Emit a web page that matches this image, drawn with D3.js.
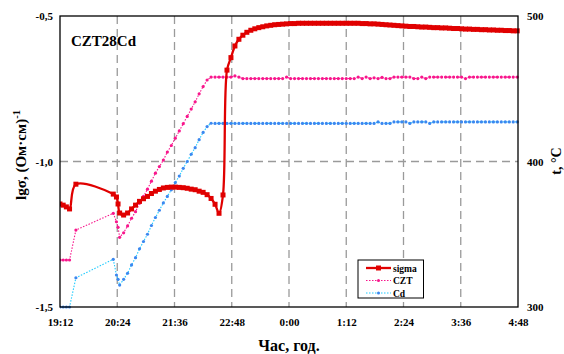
<!DOCTYPE html>
<html>
<head>
<meta charset="utf-8">
<script src="https://cdn.jsdelivr.net/npm/d3@7"></script>
<style>
  html, body { margin: 0; padding: 0; background: #fff; }
  svg { display: block; font-family: "Liberation Serif", "Times New Roman", serif; font-weight: bold; }
</style>
</head>
<body>
<svg id="chart" width="564" height="354"></svg>
<script>
// ---- data (time = minutes after 19:12) ----
const timeTickLabels = ["19:12", "20:24", "21:36", "22:48", "0:00", "1:12", "2:24", "3:36", "4:48"];
const leftTicks = [-1.5, -1.0, -0.5];
const leftTickLabels = ["-1,5", "-1,0", "-0,5"];
const rightTicks = [300, 400, 500];

const minutes = [
  0, 4, 8, 12, 20, 67, 71, 73, 75, 80, 85, 90, 95,
  100, 105, 110, 115, 120, 125, 130, 135, 140, 145,
  150, 155, 160, 165, 170, 175, 180, 185, 190, 195,
  200, 205, 210, 215, 220, 225, 230, 235, 240, 245,
  250, 255, 260, 265, 270, 275, 280, 285, 290, 295,
  300, 305, 310, 315, 320, 325, 330, 335, 340, 345,
  350, 355, 360, 365, 370, 375, 380, 385, 390, 395,
  400, 405, 410, 415, 420, 425, 430, 435, 440, 445,
  450, 455, 460, 465, 470, 475, 480, 485, 490, 495,
  500, 505, 510, 515, 520, 525, 530, 535, 540, 545,
  550, 555, 560, 565, 570, 575
];

const sigma = [
  -1.146, -1.150, -1.156, -1.163, -1.078, -1.112, -1.122, -1.146, -1.177, -1.184, -1.177, -1.163, -1.150,
  -1.137, -1.128, -1.120, -1.110, -1.102, -1.096, -1.091, -1.089, -1.088, -1.088,
  -1.089, -1.090, -1.092, -1.095, -1.097, -1.102, -1.106, -1.114, -1.127, -1.147,
  -1.178, -1.115, -0.686, -0.643, -0.603, -0.580, -0.566, -0.556, -0.549, -0.544,
  -0.540, -0.537, -0.534, -0.532, -0.530, -0.529, -0.528, -0.527, -0.526, -0.526,
  -0.525, -0.525, -0.525, -0.525, -0.525, -0.525, -0.525, -0.525, -0.525, -0.525,
  -0.525, -0.525, -0.525, -0.525, -0.525, -0.525, -0.526, -0.526, -0.527, -0.527,
  -0.528, -0.529, -0.530, -0.531, -0.532, -0.533, -0.534, -0.535, -0.536, -0.536,
  -0.537, -0.538, -0.538, -0.539, -0.540, -0.540, -0.541, -0.541, -0.542, -0.543,
  -0.543, -0.544, -0.545, -0.545, -0.546, -0.546, -0.547, -0.547, -0.548, -0.548,
  -0.549, -0.549, -0.550, -0.550, -0.551, -0.551
];

const tempCZT = [
  332.3, 332.3, 332.3, 332.3, 352.9, 364.4, 358.6, 354.8, 347.9, 351.0, 355.7, 361.0, 365.5,
  371.3, 376.0, 381.0, 386.5, 392.0, 396.5, 401.0, 406.5, 411.0, 416.0,
  421.0, 426.0, 431.0, 436.0, 441.0, 446.5, 451.5, 456.0, 458.0, 458.0,
  458.0, 458.0, 458.0, 458.0, 458.8, 458.0, 457.0, 457.0, 457.0, 457.0,
  457.0, 457.0, 457.0, 457.0, 457.0, 457.0, 457.0, 458.0, 457.0, 457.0,
  457.0, 457.0, 457.0, 457.0, 457.0, 457.0, 457.0, 457.0, 457.0, 457.0,
  457.0, 457.0, 457.0, 457.0, 457.0, 458.0, 457.0, 458.0, 457.0, 457.5,
  457.0, 457.8, 457.0, 457.0, 458.0, 458.0, 458.0, 458.0, 458.0, 457.0,
  457.0, 458.0, 457.0, 458.0, 458.0, 458.0, 458.0, 458.0, 458.0, 458.0,
  458.0, 458.0, 457.0, 458.0, 458.0, 458.0, 458.0, 458.0, 458.0, 458.0,
  458.0, 458.0, 458.0, 458.0, 458.0, 458.0
];

const tempCd = [
  300.0, 300.0, 300.0, 300.0, 320.1, 332.8, 322.0, 319.0, 315.1, 319.0, 323.2, 328.9, 333.9,
  340.0, 345.0, 350.0, 356.0, 361.5, 366.5, 371.5, 376.0, 380.5, 385.5,
  390.0, 395.3, 400.0, 405.0, 409.5, 415.0, 420.0, 424.0, 426.3, 426.2,
  426.2, 426.2, 426.2, 426.2, 426.2, 426.2, 426.2, 426.2, 426.2, 426.2,
  426.2, 426.2, 426.2, 426.2, 426.2, 426.2, 426.2, 426.2, 426.2, 426.2,
  426.2, 426.2, 426.2, 426.2, 426.2, 426.2, 426.2, 426.2, 426.2, 426.2,
  426.2, 426.2, 426.2, 426.2, 426.2, 426.2, 426.2, 426.2, 426.2, 426.2,
  427.2, 426.2, 426.2, 426.2, 427.2, 427.2, 427.2, 427.2, 426.2, 427.2,
  427.2, 427.2, 427.2, 426.2, 427.2, 427.2, 427.2, 427.2, 427.2, 427.2,
  427.2, 427.2, 427.2, 427.2, 427.2, 427.2, 427.2, 427.2, 427.2, 427.2,
  427.2, 427.2, 427.2, 427.2, 427.2, 427.2
];

const seriesNames = ["sigma", "CZT", "Cd"];

// ---- layout ----
const svg = d3.select("#chart");
const L = 60, R = 518, T = 16, B = 307;
const C = { sigma: "#e00000", czt: "#f8168c", cdLine: "#22ccff", cdMark: "#3b87f0", grid: "#9a9a9a" };

const x = d3.scaleLinear().domain([0, 576]).range([L, R]);
const yL = d3.scaleLinear().domain([-1.5, -0.5]).range([B, T]);
const yR = d3.scaleLinear().domain([300, 500]).range([B, T]);
const xTickVals = timeTickLabels.map((d, i) => i * 72);

svg.append("rect").attr("width", 564).attr("height", 354).attr("fill", "#fff");

// grid
const grid = svg.append("g").attr("stroke", C.grid).attr("stroke-width", 1.3).attr("stroke-dasharray", "8,5");
grid.selectAll("line.v").data(xTickVals.slice(1, -1)).join("line")
  .attr("x1", d => x(d)).attr("x2", d => x(d)).attr("y1", T).attr("y2", B);
grid.append("line").attr("x1", L).attr("x2", R).attr("y1", yL(-1.0)).attr("y2", yL(-1.0));

// clip
svg.append("defs").append("clipPath").attr("id", "clip")
  .append("rect").attr("x", L).attr("y", T - 4).attr("width", R - L + 2).attr("height", B - T + 6);

const data = minutes.map((m, i) => ({ m, s: sigma[i], c: tempCZT[i], d: tempCd[i] }));
const plot = svg.append("g").attr("clip-path", "url(#clip)");

// Cd
plot.append("path").datum(data)
  .attr("fill", "none").attr("stroke", C.cdLine).attr("stroke-width", 1.1).attr("stroke-dasharray", "1.5,1.5")
  .attr("d", d3.line().x(d => x(d.m)).y(d => yR(d.d)));
plot.append("g").selectAll("circle").data(data).join("circle")
  .attr("cx", d => x(d.m)).attr("cy", d => yR(d.d)).attr("r", 1.6).attr("fill", C.cdMark);

// CZT
plot.append("path").datum(data)
  .attr("fill", "none").attr("stroke", C.czt).attr("stroke-width", 1.1).attr("stroke-dasharray", "1.5,1.5")
  .attr("d", d3.line().x(d => x(d.m)).y(d => yR(d.c)));
plot.append("g").selectAll("circle").data(data).join("circle")
  .attr("cx", d => x(d.m)).attr("cy", d => yR(d.c)).attr("r", 1.6).attr("fill", C.czt);

// sigma
plot.append("path").datum(data)
  .attr("fill", "none").attr("stroke", C.sigma).attr("stroke-width", 2.3)
  .attr("d", d3.line().curve(d3.curveCatmullRom.alpha(0.5)).x(d => x(d.m)).y(d => yL(d.s)));
plot.append("g").selectAll("rect").data(data).join("rect")
  .attr("x", d => x(d.m) - 2.5).attr("y", d => yL(d.s) - 2.5).attr("width", 5).attr("height", 5).attr("fill", C.sigma);

// frame
svg.append("rect").attr("x", L).attr("y", T).attr("width", R - L).attr("height", B - T)
  .attr("fill", "none").attr("stroke", "#000").attr("stroke-width", 1.3);

// axes
const fs = "11px";
const ax = svg.append("g").attr("transform", `translate(0,${B})`)
  .call(d3.axisBottom(x).tickValues(xTickVals).tickFormat((d, i) => timeTickLabels[i]).tickSize(0).tickPadding(11));
const ayl = svg.append("g").attr("transform", `translate(${L},0)`)
  .call(d3.axisLeft(yL).tickValues(leftTicks).tickFormat((d, i) => leftTickLabels[i]).tickSize(0).tickPadding(7));
const ayr = svg.append("g").attr("transform", `translate(${R},0)`)
  .call(d3.axisRight(yR).tickValues(rightTicks).tickFormat(d3.format("d")).tickSize(0).tickPadding(9));
[ax, ayl, ayr].forEach(g => {
  g.select(".domain").remove();
  g.selectAll("text").attr("font-family", "Liberation Serif, serif").attr("font-weight", "bold")
    .attr("font-size", fs).attr("fill", "#000");
});

// titles
svg.append("text").attr("x", 71).attr("y", 46).attr("font-size", "15px").text("CZT28Cd");

svg.append("text").attr("x", 289).attr("y", 351).attr("text-anchor", "middle").attr("font-size", "16px").text("Час, год.");

const yt = svg.append("text").attr("transform", "translate(26,155) rotate(-90)")
  .attr("text-anchor", "middle").attr("font-size", "15px");
yt.append("tspan").text("lgσ, (Ом·см)");
yt.append("tspan").attr("dy", "-6").attr("font-size", "10.5px").text("-1");

svg.append("text").attr("transform", "translate(561,161) rotate(-90)")
  .attr("text-anchor", "middle").attr("font-size", "14px").text("t, °C");

// legend
const lg = svg.append("g");
lg.append("rect").attr("x", 358).attr("y", 260).attr("width", 65.5).attr("height", 38)
  .attr("fill", "#fff").attr("stroke", "#000").attr("stroke-width", 1);
const legendRows = [
  { name: seriesNames[0], y: 268, line: C.sigma, mark: C.sigma, w: 2.3, dash: null, shape: "rect" },
  { name: seriesNames[1], y: 280.5, line: C.czt, mark: C.czt, w: 1.1, dash: "1.5,1.5", shape: "circle" },
  { name: seriesNames[2], y: 293, line: C.cdLine, mark: C.cdMark, w: 1.1, dash: "1.5,1.5", shape: "circle" }
];
legendRows.forEach(r => {
  lg.append("line").attr("x1", 366).attr("x2", 391).attr("y1", r.y).attr("y2", r.y)
    .attr("stroke", r.line).attr("stroke-width", r.w).attr("stroke-dasharray", r.dash);
  if (r.shape === "rect") lg.append("rect").attr("x", 376).attr("y", r.y - 2.5).attr("width", 5).attr("height", 5).attr("fill", r.mark);
  else lg.append("circle").attr("cx", 378.5).attr("cy", r.y).attr("r", 1.5).attr("fill", r.mark);
  lg.append("text").attr("x", 393).attr("y", r.y + 3.5).attr("font-size", "9.5px").text(r.name);
});
</script>
</body>
</html>
